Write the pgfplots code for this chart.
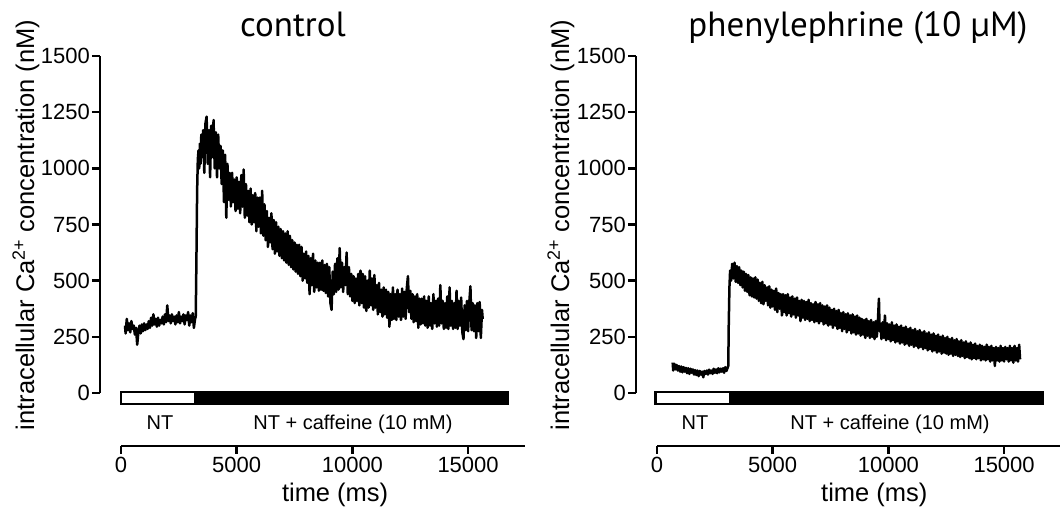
\documentclass[border=0pt]{standalone}
\usepackage{pgfplots}
\pgfplotsset{compat=1.18}
\usepackage{fontspec}
\setmainfont{Liberation Sans}
\newfontfamily\titlefont{PT Sans}

\pgfplotstableread{
t y
173 300
200 265
250 330
300 280
350 310
400 270
450 320
500 285
550 300
600 260
650 290
700 215
750 270
800 300
850 265
900 305
950 275
1000 310
1050 280
1100 305
1150 285
1200 320
1250 290
1300 335
1350 300
1400 350
1450 305
1500 330
1550 295
1600 335
1650 300
1700 325
1750 310
1800 340
1850 305
1900 350
1950 315
2000 390
2050 320
2100 345
2150 310
2200 350
2250 320
2300 340
2350 305
2400 345
2450 315
2500 360
2550 310
2600 340
2650 320
2700 350
2750 305
2800 345
2850 325
2900 360
2950 300
3000 345
3050 315
3100 355
3150 290
3200 330
3230 340
3260 600
3290 900
3320 1040
3350 1080
3380 1000
3410 1110
3440 1020
3470 1150
3500 1050
3550 1170
3600 980
3650 1200
3700 1230
3750 1020
3800 1170
3850 960
3900 1190
3950 1050
4000 1215
4050 1000
4100 1160
4150 960
4200 1150
4250 1000
4300 1100
4350 930
4400 1080
4450 850
4500 1060
4550 780
4600 1020
4650 860
4700 980
4750 830
4800 980
4850 850
4900 950
4950 810
5000 960
5050 820
5100 940
5150 800
5200 970
5250 830
5300 995
5350 780
5400 930
5450 790
5500 900
5550 760
5600 910
5650 750
5700 880
5750 760
5800 890
5850 720
5900 870
5950 740
6000 870
6050 710
6100 900
6150 700
6200 840
6250 680
6300 810
6350 650
6400 780
6450 670
6500 800
6550 640
6600 770
6650 620
6700 760
6750 630
6800 740
6850 610
6900 730
6950 600
7000 720
7050 590
7100 710
7150 580
7200 720
7250 570
7300 700
7350 560
7400 680
7450 550
7500 670
7550 540
7600 660
7650 530
7700 660
7750 520
7800 650
7850 500
7900 620
7950 510
8000 630
8050 490
8100 610
8150 440
8200 600
8250 480
8300 620
8350 450
8400 590
8450 470
8500 580
8550 455
8600 580
8650 460
8700 590
8750 455
8800 570
8850 445
8900 575
8950 430
9000 560
9050 400
9100 370
9150 540
9200 440
9250 575
9300 450
9350 600
9400 460
9450 645
9500 470
9550 580
9600 450
9650 560
9700 480
9750 625
9800 440
9850 560
9900 430
9950 530
10000 410
10050 520
10100 400
10150 510
10200 410
10250 530
10300 390
10350 545
10400 400
10450 530
10500 380
10550 520
10600 365
10650 500
10700 380
10750 545
10800 390
10850 510
10900 370
10950 525
11000 380
11050 480
11100 350
11150 490
11200 360
11250 460
11300 340
11350 470
11400 350
11450 460
11500 335
11550 450
11600 295
11650 440
11700 325
11750 470
11800 330
11850 440
11900 325
11950 460
12000 340
12050 440
12100 325
12150 465
12200 340
12250 450
12300 330
12350 465
12400 520
12450 360
12500 455
12550 330
12600 440
12650 315
12700 430
12750 320
12800 440
12850 290
12900 420
12950 305
13000 420
13050 310
13100 430
13150 300
13200 410
13250 290
13300 430
13350 300
13400 400
13450 285
13500 440
13550 310
13600 410
13650 295
13700 420
13750 300
13800 480
13850 310
13900 410
13950 285
14000 400
14050 290
14100 430
14150 285
14200 470
14250 300
14300 410
14350 285
14400 400
14450 290
14500 455
14550 285
14600 410
14650 300
14700 425
14750 270
14800 240
14850 390
14900 280
14950 410
15000 275
15050 400
15100 475
15150 280
15200 400
15250 275
15300 390
15350 245
15400 400
15450 275
15500 405
15550 245
15600 370
15630 330
}\controldata

\pgfplotstableread{
t y
678 135
700 100
750 130
800 105
850 125
900 100
950 120
1000 95
1050 118
1100 92
1150 115
1200 95
1250 112
1300 88
1350 110
1400 85
1450 108
1500 90
1550 105
1600 82
1650 102
1700 80
1750 100
1800 75
1850 98
1900 82
1950 95
2000 70
2050 98
2100 85
2150 100
2200 82
2250 104
2300 88
2350 100
2400 85
2450 108
2500 90
2550 105
2600 88
2650 110
2700 92
2750 108
2800 95
2850 110
2900 90
2950 115
3000 98
3050 112
3080 120
3100 300
3130 470
3160 545
3200 500
3250 575
3300 510
3350 580
3400 495
3450 565
3500 490
3550 560
3600 480
3650 545
3700 470
3750 540
3800 455
3850 530
3900 450
3950 525
4000 435
4050 515
4100 430
4150 510
4200 425
4250 515
4300 420
4350 505
4400 410
4450 490
4500 400
4550 495
4600 395
4650 480
4700 410
4750 470
4800 390
4850 475
4900 380
4950 460
5000 385
5050 455
5100 370
5150 465
5200 360
5250 445
5300 375
5350 440
5400 345
5450 440
5500 360
5550 435
5600 345
5650 440
5700 355
5750 425
5800 340
5850 430
5900 350
5950 420
6000 335
6050 425
6100 345
6150 410
6200 320
6250 415
6300 335
6350 410
6400 325
6450 405
6500 330
6550 415
6600 320
6650 400
6700 325
6750 395
6800 315
6850 405
6900 320
6950 395
7000 310
7050 400
7100 320
7150 390
7200 305
7250 385
7300 310
7350 390
7400 300
7450 380
7500 305
7550 370
7600 290
7650 375
7700 300
7750 365
7800 285
7850 370
7900 290
7950 355
8000 275
8050 360
8100 285
8150 350
8200 270
8250 355
8300 280
8350 345
8400 265
8450 350
8500 270
8550 340
8600 260
8650 345
8700 265
8750 335
8800 255
8850 330
8900 260
8950 325
9000 245
9050 330
9100 255
9150 320
9200 245
9250 325
9300 250
9350 315
9400 240
9450 320
9500 250
9550 330
9590 420
9620 275
9650 310
9700 240
9750 315
9800 245
9850 345
9900 235
9950 310
10000 240
10050 305
10100 230
10150 315
10200 235
10250 300
10300 225
10350 305
10400 230
10450 295
10500 220
10550 300
10600 225
10650 290
10700 215
10750 295
10800 220
10850 285
10900 210
10950 290
11000 215
11050 280
11100 205
11150 285
11200 210
11250 275
11300 200
11350 280
11400 205
11450 270
11500 195
11550 275
11600 200
11650 265
11700 190
11750 270
11800 195
11850 260
11900 185
11950 265
12000 190
12050 255
12100 180
12150 260
12200 185
12250 250
12300 175
12350 255
12400 180
12450 245
12500 175
12550 250
12600 170
12650 240
12700 175
12750 245
12800 165
12850 235
12900 170
12950 240
13000 165
13050 230
13100 160
13150 235
13200 165
13250 225
13300 155
13350 230
13400 160
13450 220
13500 155
13550 225
13600 150
13650 215
13700 155
13750 220
13800 150
13850 210
13900 155
13950 215
14000 145
14050 210
14100 150
14150 205
14200 145
14250 215
14300 150
14350 205
14400 140
14450 210
14500 145
14550 200
14600 120
14650 205
14700 145
14750 200
14800 140
14850 210
14900 145
14950 200
15000 140
15050 205
15100 150
15150 200
15200 140
15250 210
15300 145
15350 200
15400 135
15450 210
15500 145
15550 200
15600 140
15650 215
15690 150
}\pheData

\pgfplotsset{
  panel/.style={
    scale only axis,
    width=404pt, height=337pt,
    anchor=south west,
    xmin=0, xmax=17459, ymin=0, ymax=1500,
    axis x line=bottom, axis y line=left,
    axis line style={-, line width=2.5pt},
    axis y line shift=21pt,
    axis x line shift=53pt,
    xtick={0,5000,10000,15000},
    ytick={0,250,500,750,1000,1250,1500},
    scaled ticks=false,
    tick align=outside,
    major tick length=8pt,
    every tick/.style={black, line width=2.5pt},
    /pgf/number format/assume math mode=true,
    /pgf/number format/set thousands separator={},
    ticklabel style={font=\fontsize{22}{25}\selectfont},
    yticklabel style={inner sep=2pt},
    xticklabel style={inner sep=3pt},
    label style={font=\fontsize{25.5}{30}\selectfont},
    xlabel={time (ms)},
    ylabel={intracellular Ca\textsuperscript{2+} concentration (nM)},
    xlabel style={at={(rel axis cs:0.53,-0.323)}, anchor=base},
    every axis title shift=0pt,
    title style={font=\titlefont\fontsize{35}{40}\selectfont, anchor=base},
    clip=false,
  },
  trace/.style={black, line width=2.5pt, line join=round, mark=none},
}

\begin{document}
\begin{tikzpicture}
\begin{axis}[panel, at={(121pt,120pt)},
  ylabel style={at={(rel axis cs:-0.2153,0.4985)}, anchor=base},
  title={control}, title style={at={(rel axis cs:0.4257,1.0564)}}]
\addplot[fill=black, draw=black, line width=2.5pt] coordinates {(0,3.5) (16720,3.5) (16720,-48) (0,-48)} -- cycle;
\addplot[fill=white, draw=black, line width=2.5pt] coordinates {(0,3.5) (3200,3.5) (3200,-48) (0,-48)} -- cycle;
\node[font=\fontsize{20}{24}\selectfont, anchor=base] at (axis cs:1685,-163) {NT};
\node[font=\fontsize{20}{24}\selectfont, anchor=base] at (axis cs:10026,-163) {NT + caffeine (10 mM)};
\addplot[trace] table[x=t, y=y] {\controldata};
\end{axis}

\begin{axis}[panel, at={(657pt,120pt)},
  ylabel style={at={(rel axis cs:-0.2178,0.4985)}, anchor=base},
  xlabel style={at={(rel axis cs:0.538,-0.323)}},
  title={phenylephrine (10 µM)}, title style={at={(rel axis cs:0.4975,1.0564)}}]
\addplot[fill=black, draw=black, line width=2.5pt] coordinates {(-60,3.5) (16670,3.5) (16670,-48) (-60,-48)} -- cycle;
\addplot[fill=white, draw=black, line width=2.5pt] coordinates {(-60,3.5) (3155,3.5) (3155,-48) (-60,-48)} -- cycle;
\node[font=\fontsize{20}{24}\selectfont, anchor=base] at (axis cs:1642,-163) {NT};
\node[font=\fontsize{20}{24}\selectfont, anchor=base] at (axis cs:10070,-163) {NT + caffeine (10 mM)};
\addplot[trace] table[x=t, y=y] {\pheData};
\end{axis}
\pgfresetboundingbox
\useasboundingbox (0,0) rectangle (1060pt,513pt);
\end{tikzpicture}
\end{document}
